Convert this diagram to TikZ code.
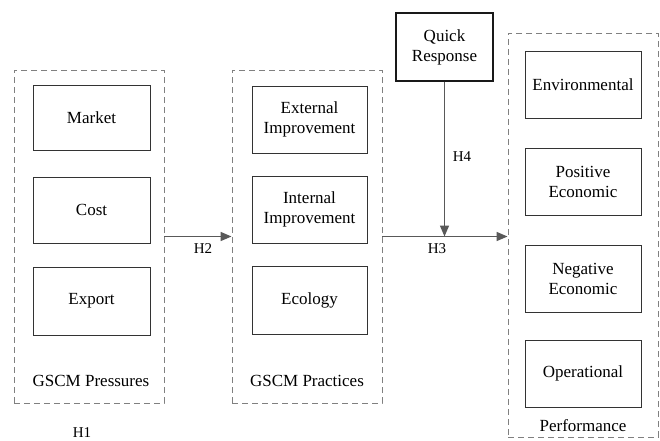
\documentclass[tikz,border=0pt]{standalone}
\usepackage{fontspec}
\setmainfont{Liberation Serif}
\newfontfamily\timesfont{Liberation Serif}
\usetikzlibrary{arrows.meta}
\begin{document}
\begin{tikzpicture}[x=1pt,y=-1pt,
 group/.style={draw=black!50, dash pattern=on 6pt off 4pt, line width=0.9pt, minimum width=150pt, inner sep=0pt},
 item/.style={draw=black!80, line width=0.8pt, align=center, inner sep=0pt, font=\timesfont\fontsize{17}{20}\selectfont},
 lbl/.style={font=\timesfont\fontsize{17}{20}\selectfont, inner sep=0pt},
 hyp/.style={font=\timesfont\fontsize{15}{17}\selectfont, inner sep=0pt},
 conn/.style={draw=black!65, line width=1.5pt, -{Triangle[length=11pt,width=9pt]}}]
\useasboundingbox (0,0) rectangle (660,440);
% groups
\node[group, minimum height=333pt] (g1) at (89,236.5) {};
\node[group, minimum height=333pt] (g2) at (307,236.5) {};
\node[group, minimum height=404pt] (g3) at (583,235) {};
% left items
\node[item, minimum width=117pt, minimum height=65pt] (market) at (91.5,117.5) {Market};
\node[item, minimum width=117pt, minimum height=66pt] (cost) at (91.5,210) {Cost};
\node[item, minimum width=117pt, minimum height=68pt] (export) at (91.5,301) {Export};
% middle items
\node[item, minimum width=115pt, minimum height=67pt] (ext) at (309.5,119.5) {External\\Improvement};
\node[item, minimum width=115pt, minimum height=67pt] (int) at (309.5,209.5) {Internal\\Improvement};
\node[item, minimum width=115pt, minimum height=68pt] (eco) at (309.5,300) {Ecology};
% right items
\node[item, minimum width=116pt, minimum height=67pt] (env) at (583,84.5) {Environmental};
\node[item, minimum width=116pt, minimum height=67pt] (pos) at (583,181.5) {Positive\\Economic};
\node[item, minimum width=116pt, minimum height=67pt] (neg) at (583,278.5) {Negative\\Economic};
\node[item, minimum width=116pt, minimum height=67pt] (ope) at (583,373.5) {Operational};
% quick response
\node[item, draw=black!90, line width=1.6pt, minimum width=97pt, minimum height=68pt] (qr) at (444.5,47) {Quick\\Response};
% group labels
\node[lbl] (l1) at (91,381) {GSCM Pressures};
\node[lbl] (l2) at (307,381) {GSCM Practices};
\node[lbl] (l3) at (583,426) {Performance};
% connectors
\draw[conn] (g1.east) -- (g2.west);
\coordinate (h3end) at (g3.west |- g2.east);
\draw[conn] (g2.east) -- (h3end);
\coordinate (h4end) at (qr.south |- g2.east);
\draw[conn] (qr.south) -- (h4end);
% hypothesis labels
\node[hyp] (h1) at (82,433) {H1};
\node[hyp] (h2) at (203,249) {H2};
\node[hyp] (h3) at (437,249) {H3};
\node[hyp] (h4) at (462,157) {H4};
\end{tikzpicture}
\end{document}
